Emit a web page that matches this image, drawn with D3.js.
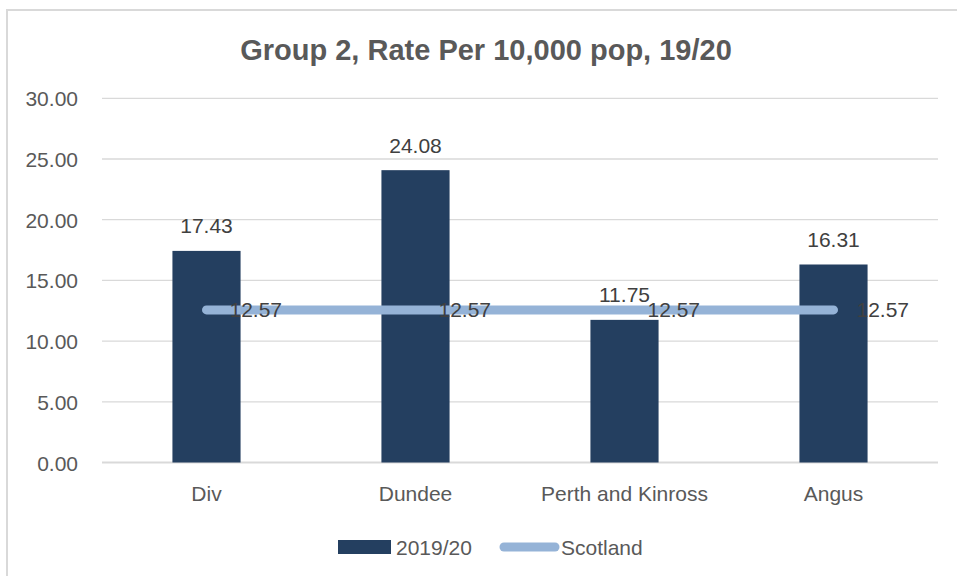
<!DOCTYPE html>
<html>
<head>
<meta charset="utf-8">
<script src="https://cdn.jsdelivr.net/npm/d3@7"></script>
<style>
  html, body { margin: 0; padding: 0; background: #fff; }
  svg { display: block; }
  text { font-family: "Liberation Sans", Arial, sans-serif; }
</style>
</head>
<body>
<svg id="chart" width="957" height="576"></svg>
<script>
const titleText = "Group 2, Rate Per 10,000 pop, 19/20";
const categories = ["Div", "Dundee", "Perth and Kinross", "Angus"];
const barValues = [17.43, 24.08, 11.75, 16.31];
const scotlandValues = [12.57, 12.57, 12.57, 12.57];
const yTicks = [0, 5, 10, 15, 20, 25, 30];
const seriesNames = ["2019/20", "Scotland"];

const svg = d3.select("#chart");
const plot = { left: 102, right: 938, top: 98.3, bottom: 462.5 };

// outer border
svg.append("rect").attr("x", 7).attr("y", 10).attr("width", 970).attr("height", 590)
  .attr("fill", "#fff").attr("stroke", "#D9D9D9").attr("stroke-width", 2);

// title
svg.append("text").attr("x", 486).attr("y", 60).attr("text-anchor", "middle")
  .attr("font-size", 29).attr("font-weight", "bold").attr("fill", "#595959")
  .text(titleText);

const x = d3.scaleBand().domain(categories).range([plot.left, plot.right]).padding(0);
const y = d3.scaleLinear().domain([0, 30]).range([plot.bottom, plot.top]);
const barW = x.bandwidth() * 0.326;

// gridlines
svg.append("g").selectAll("line").data(yTicks).join("line")
  .attr("x1", plot.left).attr("x2", plot.right)
  .attr("y1", d => y(d)).attr("y2", d => y(d))
  .attr("stroke", "#D9D9D9").attr("stroke-width", d => d === 0 ? 2 : 1.3);

// y axis labels
const yAxis = d3.axisLeft(y).tickValues(yTicks).tickFormat(d3.format(".2f")).tickSize(0).tickPadding(0);
const gy = svg.append("g").attr("transform", "translate(78,0)").call(yAxis);
gy.select(".domain").remove();
gy.selectAll("text").attr("font-size", 21).attr("fill", "#595959")
  .attr("font-family", '"Liberation Sans", Arial, sans-serif').attr("dy", "0.36em");

// x axis labels
const xAxis = d3.axisBottom(x).tickSize(0).tickPadding(0);
const gx = svg.append("g").attr("transform", `translate(0,${plot.bottom})`).call(xAxis);
gx.select(".domain").remove();
gx.selectAll("text").attr("font-size", 21).attr("fill", "#595959")
  .attr("font-family", '"Liberation Sans", Arial, sans-serif').attr("dy", null).attr("y", 38);

// bars
const barColor = "#243F60";
svg.append("g").selectAll("rect").data(barValues).join("rect")
  .attr("x", (d, i) => x(categories[i]) + (x.bandwidth() - barW) / 2)
  .attr("y", d => y(d)).attr("width", barW).attr("height", d => y(0) - y(d))
  .attr("fill", barColor);

// bar labels
svg.append("g").selectAll("text").data(barValues).join("text")
  .attr("x", (d, i) => x(categories[i]) + x.bandwidth() / 2)
  .attr("y", d => y(d) - 17.5).attr("text-anchor", "middle")
  .attr("font-size", 21).attr("fill", "#404040").text(d => d.toFixed(2));

// Scotland line
const lineColor = "#95B3D7";
const line = d3.line().x((d, i) => x(categories[i]) + x.bandwidth() / 2).y(d => y(d));
svg.append("path").datum(scotlandValues).attr("d", line)
  .attr("fill", "none").attr("stroke", lineColor).attr("stroke-width", 9)
  .attr("stroke-linecap", "round").attr("stroke-linejoin", "round");

// line labels
svg.append("g").selectAll("text").data(scotlandValues).join("text")
  .attr("x", (d, i) => x(categories[i]) + x.bandwidth() / 2 + 23)
  .attr("y", d => y(d)).attr("dy", "0.36em")
  .attr("font-size", 21).attr("fill", "#404040").text(d => d.toFixed(2));

// legend
const lg = svg.append("g");
lg.append("rect").attr("x", 338).attr("y", 540).attr("width", 53).attr("height", 14).attr("fill", barColor);
lg.append("text").attr("x", 396).attr("y", 547).attr("dy", "0.36em").attr("font-size", 21)
  .attr("fill", "#595959").text(seriesNames[0]);
lg.append("line").attr("x1", 504).attr("x2", 555).attr("y1", 547).attr("y2", 547)
  .attr("stroke", lineColor).attr("stroke-width", 9).attr("stroke-linecap", "round");
lg.append("text").attr("x", 561).attr("y", 547).attr("dy", "0.36em").attr("font-size", 21)
  .attr("fill", "#595959").text(seriesNames[1]);
</script>
</body>
</html>
